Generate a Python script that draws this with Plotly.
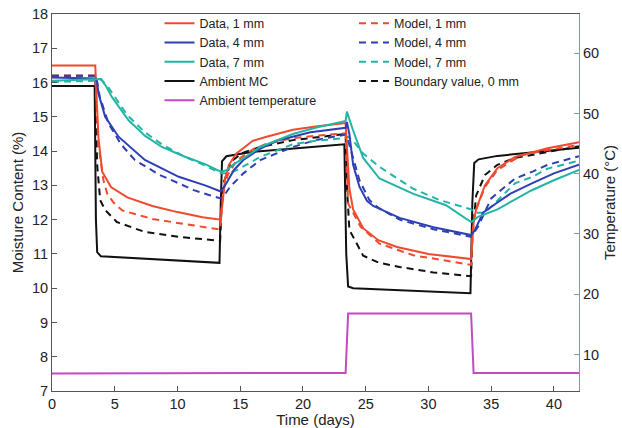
import plotly.graph_objects as go

# ---- moisture content (%) : measured data ----
data_1mm_t = [0, 3.45, 3.55, 3.7, 4.0, 4.7, 6, 8, 10, 12, 13.45, 13.6, 13.8, 14.1, 14.7, 16, 17.1, 19.2, 21, 23.4,
              23.55, 23.7, 24.0, 24.8, 26, 27.5, 30, 33.4, 33.6, 33.8, 34.5, 35.5, 36.9, 39.5, 42]
data_1mm_v = [16.5, 16.5, 15.6, 14.4, 13.4, 12.95, 12.65, 12.4, 12.22, 12.07, 12.0, 12.6, 13.2, 13.6, 13.93, 14.3, 14.42, 14.62, 14.72, 14.82,
              13.8, 12.9, 12.3, 11.75, 11.4, 11.2, 11.0, 10.85, 11.9, 12.3, 13.0, 13.5, 13.83, 14.08, 14.26]

data_4mm_t = [0, 3.5, 3.6, 3.7, 4.24, 5.3, 7.4, 10.1, 12.2, 13.45, 13.9, 14.5, 15.25, 16.5, 17.9, 20.6, 23.4,
              23.5, 23.7, 24.0, 24.5, 25.1, 25.6, 27.7, 30.4, 33.4, 33.7, 34.35, 35.5, 36.5, 38.2, 40, 42]
data_4mm_v = [16.15, 16.12, 16.0, 15.68, 15.0, 14.42, 13.74, 13.25, 13.0, 12.82, 13.06, 13.45, 13.74, 14.05, 14.3, 14.55, 14.68,
              14.85, 14.5, 13.6, 12.96, 12.55, 12.4, 12.05, 11.78, 11.55, 11.69, 12.2, 12.5, 12.75, 13.05, 13.35, 13.6]

data_7mm_t = [0, 3.5, 3.9, 4.3, 4.77, 6.1, 7.4, 8.75, 10.5, 12.2, 13.45, 13.9, 14.5, 15.25, 16.6, 19.2, 21, 23.4,
              23.5, 24.0, 24.8, 26.1, 28.8, 31.4, 33.4, 33.95, 35.5, 38.2, 40, 42]
data_7mm_v = [16.05, 16.08, 16.1, 15.9, 15.58, 14.9, 14.45, 14.12, 13.85, 13.62, 13.4, 13.44, 13.62, 13.79, 14.12, 14.5, 14.68, 14.88,
              15.15, 14.6, 13.8, 13.2, 12.75, 12.42, 11.93, 12.08, 12.3, 12.85, 13.15, 13.45]

ambient_mc_t = [0, 3.4, 3.5, 3.6, 3.9, 8, 13.35, 13.45, 13.55, 13.9, 16, 20, 23.3,
                23.45, 23.6, 24, 28, 33.35, 33.5, 33.65, 34.0, 35.5, 38, 42]
ambient_mc_v = [15.9, 15.9, 12.0, 11.05, 10.93, 10.85, 10.74, 12.5, 13.7, 13.85, 13.98, 14.1, 14.2,
                11.0, 10.05, 10.0, 9.93, 9.85, 12.5, 13.65, 13.76, 13.86, 13.95, 14.1]

# ---- moisture content (%) : model ----
model_1mm_t = [0, 3.45, 3.55, 3.7, 4.1, 4.4, 4.9, 5.6, 8, 10.6, 12.2, 13.4, 13.5, 13.7, 14.0, 14.7, 16, 17, 19.2, 21, 23.4,
               23.5, 23.6, 24.6, 26.1, 28.8, 32.8, 33.4, 33.5, 33.7, 34.5, 35.5, 37.4, 39.5, 42]
model_1mm_v = [16.2, 16.2, 15.3, 14.2, 13.15, 12.76, 12.5, 12.27, 12.02, 11.88, 11.79, 11.71, 12.3, 12.9, 13.3, 13.72, 14.05, 14.2, 14.38, 14.45, 14.52,
               13.5, 12.47, 11.79, 11.3, 10.96, 10.72, 10.68, 11.6, 12.2, 12.95, 13.45, 13.88, 14.03, 14.18]

model_4mm_t = [0, 3.5, 3.6, 3.8, 4.5, 5.5, 6.6, 8.6, 10.1, 11.3, 12.5, 13.45, 13.7, 14.2, 15.25, 16.6, 19.2, 21, 23.4,
               23.6, 23.9, 24.5, 25.3, 26, 27.7, 30.4, 33.4, 33.95, 35.0, 36.9, 38.3, 39.5, 42]
model_4mm_v = [16.2, 16.2, 16.0, 15.6, 14.81, 14.2, 13.74, 13.3, 13.06, 12.86, 12.72, 12.62, 12.7, 12.96, 13.35, 13.74, 14.12, 14.32, 14.48,
               14.3, 13.93, 13.15, 12.57, 12.35, 12.0, 11.72, 11.5, 11.79, 12.62, 13.2, 13.4, 13.6, 13.85]

model_7mm_t = [0, 3.5, 3.9, 4.5, 6, 7.4, 8.75, 10.5, 12.2, 13.45, 14.0, 14.7, 16.6, 19.2, 21, 23.4,
               23.6, 24.0, 24.8, 26.1, 28.8, 30.9, 33.4, 33.7, 34.5, 36.9, 38.3, 39.5, 42]
model_7mm_v = [16.02, 16.05, 16.1, 15.85, 15.05, 14.55, 14.2, 13.85, 13.58, 13.35, 13.35, 13.44, 13.83, 14.2, 14.3, 14.38,
               14.42, 14.3, 13.93, 13.54, 12.9, 12.57, 12.3, 12.2, 12.2, 13.06, 13.25, 13.49, 13.72]

boundary_t = [0, 3.45, 3.5, 3.6, 3.84, 4.24, 5.17, 7.4, 10.1, 13.4, 13.5, 13.7, 14.3, 15.2, 16.6, 19.2, 23.4,
              23.5, 23.7, 24.8, 26, 27.7, 30.4, 33.4, 33.5, 33.8, 34.5, 35.5, 36.9, 39.5, 42]
boundary_v = [16.2, 16.2, 15.0, 13.6, 12.57, 12.28, 11.93, 11.64, 11.5, 11.38, 12.3, 13.1, 13.7, 13.95, 14.12, 14.32, 14.5,
              13.0, 11.7, 10.95, 10.75, 10.62, 10.46, 10.35, 11.5, 12.7, 13.3, 13.6, 13.8, 13.98, 14.14]

# ---- ambient temperature (°C) ----
ambient_temp_t = [0, 3.6, 3.65, 23.4, 23.6, 33.4, 33.6, 42]
ambient_temp_v = [6.85, 6.85, 6.95, 6.95, 16.8, 16.8, 6.95, 6.95]

RED = "#f04a2e"
BLUE = "#2e3fb5"
TEAL = "#22b5a6"
BLACK = "#111111"
MAGENTA = "#c24ac4"
DASH = "7px,5px"

fig = go.Figure()


def add_line(t, v, name, color, rank, dash="solid", legend="legend", yaxis="y"):
    fig.add_trace(go.Scatter(
        x=t, y=v, name=name, mode="lines", yaxis=yaxis, legend=legend,
        legendrank=rank,
        line=dict(color=color, width=2, dash=dash),
    ))


add_line(ambient_mc_t, ambient_mc_v, "Ambient MC", BLACK, 4)
add_line(boundary_t, boundary_v, "Boundary value, 0 mm", BLACK, 4, DASH, "legend2")
add_line(model_1mm_t, model_1mm_v, "Model, 1 mm", RED, 1, DASH, "legend2")
add_line(model_4mm_t, model_4mm_v, "Model, 4 mm", BLUE, 2, DASH, "legend2")
add_line(model_7mm_t, model_7mm_v, "Model, 7 mm", TEAL, 3, DASH, "legend2")
add_line(data_1mm_t, data_1mm_v, "Data, 1 mm", RED, 1)
add_line(data_4mm_t, data_4mm_v, "Data, 4 mm", BLUE, 2)
add_line(data_7mm_t, data_7mm_v, "Data, 7 mm", TEAL, 3)
add_line(ambient_temp_t, ambient_temp_v, "Ambient temperature", MAGENTA, 5, yaxis="y2")

FONT = "Liberation Sans, Arial, sans-serif"
AX = "#555555"
AX2 = "#7f9c9c"

fig.update_layout(
    width=622, height=428,
    margin=dict(l=52, r=43, t=14, b=37, autoexpand=False),
    paper_bgcolor="white", plot_bgcolor="white",
    font=dict(family=FONT, size=14.5, color="#222222"),
    showlegend=True,
    legend=dict(
        x=0.204, y=1.014, xanchor="left", yanchor="top",
        traceorder="normal", bgcolor="rgba(0,0,0,0)",
        font=dict(size=12.5), itemwidth=30,
    ),
    legend2=dict(
        x=0.573, y=1.014, xanchor="left", yanchor="top",
        traceorder="normal", bgcolor="rgba(0,0,0,0)",
        font=dict(size=12.5), itemwidth=30,
    ),
    xaxis=dict(
        range=[0, 42], tickvals=[0, 5, 10, 15, 20, 25, 30, 35, 40],
        ticks="inside", ticklen=5, tickcolor=AX, automargin=False,
        showline=True, linecolor=AX, linewidth=1, mirror=True,
        showgrid=False, zeroline=False,
        title=dict(text="Time (days)", font=dict(size=15), standoff=5),
    ),
    yaxis=dict(
        range=[7, 18], tickvals=list(range(7, 19)),
        ticks="inside", ticklen=5, tickcolor=AX, automargin=False,
        showline=True, linecolor=AX, linewidth=1,
        showgrid=False, zeroline=False,
        title=dict(text="Moisture Content (%)", font=dict(size=15), standoff=4),
    ),
    yaxis2=dict(
        range=[3.95, 66.5], tickvals=[10, 20, 30, 40, 50, 60],
        overlaying="y", side="right", automargin=False,
        ticks="inside", ticklen=5, tickcolor=AX2,
        showline=True, linecolor=AX2, linewidth=1,
        showgrid=False, zeroline=False,
        title=dict(text="Temperature (°C)", font=dict(size=15), standoff=6),
    ),
)

fig.write_html("out.html")
